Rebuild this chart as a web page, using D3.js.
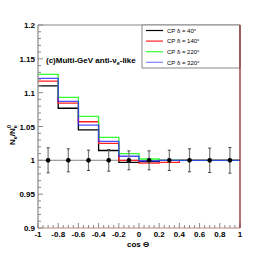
<!DOCTYPE html>
<html>
<head>
  <script src="https://d3js.org/d3.v7.min.js"></script>
  <style>
    body { margin: 0; background: #fff; }
    text { font-family: "Liberation Sans", Arial, sans-serif; }
  </style>
</head>
<body>
  <script>
    var width = 268,
        height = 255;

    // bin edges in cos(theta)
    var binEdges = [-1, -0.8, -0.6, -0.4, -0.2, 0, 0.2, 0.4, 0.6, 0.8, 1];

    // ratio N_e / N_e^0 for each CP phase
    var cp40  = [1.110, 1.077, 1.045, 1.0145, 0.997, 0.998, 1.000, 1.000, 1.000, 1.000];
    var cp140 = [1.117, 1.0845, 1.057, 1.025, 1.000, 0.996, 0.997, 1.000, 1.000, 1.000];
    var cp220 = [1.127, 1.093, 1.065, 1.034, 1.010, 1.002, 1.000, 1.000, 1.000, 1.000];
    var cp320 = [1.121, 1.087, 1.052, 1.028, 1.006, 0.999, 1.000, 1.000, 1.000, 1.000];

    // data points (ratio = 1) and errors
    var dataVals = [1, 1, 1, 1, 1, 1, 1, 1, 1, 1];
    var dataErrs = [0.0185, 0.017, 0.015, 0.016, 0.014, 0.014, 0.015, 0.017, 0.018, 0.019];

    var xTicks = [-1, -0.8, -0.6, -0.4, -0.2, 0, 0.2, 0.4, 0.6, 0.8, 1];
    var xTickLabels = ["-1", "-0.8", "-0.6", "-0.4", "-0.2", "0", "0.2", "0.4", "0.6", "0.8", "1"];
    var yTicks = [0.9, 0.95, 1, 1.05, 1.1, 1.15, 1.2];
    var yTickLabels = ["0.9", "0.95", "1", "1.05", "1.1", "1.15", "1.2"];

    var seriesNames = ["40", "140", "220", "320"];
    var seriesColors = ["#000000", "#ff2020", "#33ff33", "#2222ff"];
    var series = [cp40, cp140, cp220, cp320];

    var pLeft = 38, pRight = 240, pTop = 25, pBottom = 228;

    var svg = d3.select('body')
      .append('svg')
      .attr('width', width)
      .attr('height', height);

    var x = d3.scaleLinear().domain([-1, 1]).range([pLeft, pRight]);
    var y = d3.scaleLinear().domain([0.9, 1.2]).range([pBottom, pTop]);

    // data: horizontal bin-width error lines
    svg.selectAll('.xerr')
      .data(dataVals)
      .enter()
      .append('line')
      .attr('x1', function(d, i) { return x(binEdges[i]); })
      .attr('x2', function(d, i) { return x(binEdges[i + 1]); })
      .attr('y1', function(d) { return y(d); })
      .attr('y2', function(d) { return y(d); })
      .attr('stroke', '#999')
      .attr('stroke-width', 1.2);

    // histograms as steps
    var line = d3.line()
      .x(function(d) { return x(d[0]); })
      .y(function(d) { return y(d[1]); })
      .curve(d3.curveStepAfter);

    series.forEach(function(vals, k) {
      var pts = vals.map(function(v, i) { return [binEdges[i], v]; });
      pts.push([binEdges[binEdges.length - 1], vals[vals.length - 1]]);
      svg.append('path')
        .attr('d', line(pts))
        .attr('fill', 'none')
        .attr('stroke', seriesColors[k])
        .attr('stroke-width', 1.3)
        .attr('stroke-opacity', k == 3 ? 0.8 : 1);
    });

    // data: vertical error bars, caps and markers
    var centers = dataVals.map(function(d, i) { return (binEdges[i] + binEdges[i + 1]) / 2; });

    svg.selectAll('.yerr')
      .data(dataVals)
      .enter()
      .append('line')
      .attr('x1', function(d, i) { return x(centers[i]); })
      .attr('x2', function(d, i) { return x(centers[i]); })
      .attr('y1', function(d, i) { return y(d + dataErrs[i]); })
      .attr('y2', function(d, i) { return y(d - dataErrs[i]); })
      .attr('stroke', '#777')
      .attr('stroke-width', 1.2);

    [1, -1].forEach(function(s) {
      svg.selectAll('.cap' + s)
        .data(dataVals)
        .enter()
        .append('line')
        .attr('x1', function(d, i) { return x(centers[i]) - 1.5; })
        .attr('x2', function(d, i) { return x(centers[i]) + 1.5; })
        .attr('y1', function(d, i) { return y(d + s * dataErrs[i]); })
        .attr('y2', function(d, i) { return y(d + s * dataErrs[i]); })
        .attr('stroke', '#444')
        .attr('stroke-width', 1);
    });

    svg.selectAll('.dot')
      .data(dataVals)
      .enter()
      .append('circle')
      .attr('cx', function(d, i) { return x(centers[i]); })
      .attr('cy', function(d) { return y(d); })
      .attr('r', 2.3)
      .attr('fill', '#000');

    // frame
    svg.append('line').attr('x1', pLeft).attr('x2', pRight).attr('y1', pTop).attr('y2', pTop)
      .attr('stroke', '#888').attr('stroke-width', 1.2);
    svg.append('line').attr('x1', pLeft).attr('x2', pLeft).attr('y1', pTop).attr('y2', pBottom)
      .attr('stroke', '#888').attr('stroke-width', 1.2);
    svg.append('line').attr('x1', pLeft).attr('x2', pRight).attr('y1', pBottom).attr('y2', pBottom)
      .attr('stroke', '#c08a8a').attr('stroke-width', 1.2);

    // y ticks (inside, minor every 0.01)
    d3.range(0, 31).forEach(function(i) {
      var v = 0.9 + i * 0.01;
      var major = i % 5 == 0;
      svg.append('line')
        .attr('x1', pLeft).attr('x2', pLeft + (major ? 5 : 3))
        .attr('y1', y(v)).attr('y2', y(v))
        .attr('stroke', '#888').attr('stroke-width', 1);
    });
    svg.selectAll('.ylab')
      .data(yTicks)
      .enter()
      .append('text')
      .attr('x', pLeft - 3)
      .attr('y', function(d) { return y(d) + 3; })
      .attr('text-anchor', 'end')
      .attr('font-size', 8)
      .attr('font-weight', 'bold')
      .text(function(d, i) { return yTickLabels[i]; });

    // x ticks (inside, minor every 0.05)
    d3.range(0, 41).forEach(function(i) {
      var v = -1 + i * 0.05;
      var major = i % 4 == 0;
      svg.append('line')
        .attr('x1', x(v)).attr('x2', x(v))
        .attr('y1', pBottom).attr('y2', pBottom - (major ? 5 : 3))
        .attr('stroke', '#888').attr('stroke-width', 1);
    });
    svg.selectAll('.xlab')
      .data(xTicks)
      .enter()
      .append('text')
      .attr('x', function(d) { return x(d); })
      .attr('y', pBottom + 9)
      .attr('text-anchor', 'middle')
      .attr('font-size', 8)
      .attr('font-weight', 'bold')
      .text(function(d, i) { return xTickLabels[i]; });

    // axis titles
    svg.append('text')
      .attr('x', 127).attr('y', 247)
      .attr('font-size', 8).attr('font-weight', 'bold')
      .text('cos \u0398');

    var yt = svg.append('text')
      .attr('transform', 'translate(15,145) rotate(-90)')
      .attr('font-size', 8).attr('font-weight', 'bold');
    yt.append('tspan').text('N');
    yt.append('tspan').attr('font-size', 5.5).attr('dy', 2).text('e');
    yt.append('tspan').attr('dy', -2).text('/N');
    yt.append('tspan').attr('font-size', 5.5).attr('dy', 2).text('e');
    yt.append('tspan').attr('font-size', 5.5).attr('dx', -3).attr('dy', -6).text('0');

    // label
    var lab = svg.append('text')
      .attr('x', 46).attr('y', 63)
      .attr('font-size', 8).attr('font-weight', 'bold');
    lab.append('tspan').text('(c)Multi-GeV anti-\u03bd');
    lab.append('tspan').attr('font-size', 5.5).attr('dy', 2).text('e');
    lab.append('tspan').attr('dy', -2).text('-like');

    // legend
    var leg = svg.append('g');
    leg.append('rect')
      .attr('x', 142).attr('y', pTop).attr('width', pRight - 142).attr('height', 43)
      .attr('fill', '#fff').attr('stroke', '#888').attr('stroke-width', 1);
    seriesNames.forEach(function(name, k) {
      var ly = 30.5 + k * 10.6;
      leg.append('line')
        .attr('x1', 146).attr('x2', 163).attr('y1', ly).attr('y2', ly)
        .attr('stroke', k == 3 ? '#8080ff' : seriesColors[k]).attr('stroke-width', 1.2);
      leg.append('text')
        .attr('x', 167).attr('y', ly + 2.2)
        .attr('font-size', 6)
        .text('CP \u03b4 = ' + name + '\u00b0');
    });

    // right frame edge on top of legend
    svg.append('line').attr('x1', pRight).attr('x2', pRight).attr('y1', pTop).attr('y2', pBottom)
      .attr('stroke', '#8b1a1a').attr('stroke-width', 1.2);
  </script>
</body>
</html>
